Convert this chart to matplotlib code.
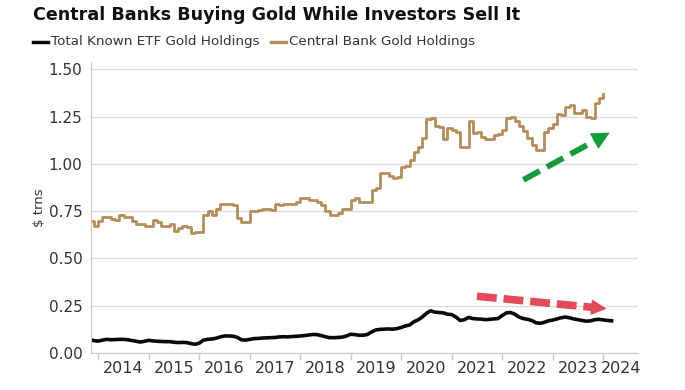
import matplotlib
matplotlib.use("Agg")
import matplotlib.pyplot as plt
from matplotlib import font_manager
import numpy as np

# ---------------- data ----------------
start_year, start_month = 2013, 11

central_bank = [
    0.70, 0.67,                                                             # 2013 Nov-Dec
    0.70, 0.72, 0.72, 0.71, 0.705, 0.73, 0.72, 0.72, 0.70, 0.68, 0.68, 0.67,  # 2014
    0.67, 0.705, 0.69, 0.67, 0.67, 0.68, 0.645, 0.66, 0.67, 0.665, 0.635, 0.64,  # 2015
    0.64, 0.73, 0.75, 0.73, 0.76, 0.785, 0.785, 0.785, 0.78, 0.715, 0.69, 0.69,  # 2016
    0.75, 0.75, 0.755, 0.76, 0.76, 0.755, 0.785, 0.78, 0.785, 0.79, 0.79, 0.80,  # 2017
    0.82, 0.82, 0.81, 0.81, 0.80, 0.78, 0.75, 0.73, 0.73, 0.74, 0.76, 0.76,    # 2018
    0.81, 0.82, 0.80, 0.80, 0.80, 0.86, 0.87, 0.95, 0.95, 0.935, 0.925, 0.93,  # 2019
    0.985, 0.99, 1.02, 1.065, 1.09, 1.136, 1.235, 1.24, 1.20, 1.195, 1.13, 1.19,  # 2020
    1.18, 1.17, 1.09, 1.09, 1.225, 1.165, 1.17, 1.14, 1.13, 1.13, 1.15, 1.16,  # 2021
    1.18, 1.24, 1.25, 1.225, 1.20, 1.175, 1.136, 1.10, 1.075, 1.075, 1.17, 1.19,  # 2022
    1.21, 1.265, 1.26, 1.30, 1.31, 1.27, 1.27, 1.285, 1.25, 1.24, 1.32, 1.35,  # 2023
    1.37,                                                                    # 2024 Jan
]

etf_holdings = [
    0.072, 0.065,                                                                   # 2013 Nov-Dec
    0.063, 0.068, 0.072, 0.070, 0.071, 0.072, 0.072, 0.070, 0.066, 0.062, 0.058, 0.062,  # 2014
    0.067, 0.064, 0.062, 0.061, 0.060, 0.060, 0.057, 0.055, 0.056, 0.055, 0.050, 0.046,  # 2015
    0.052, 0.068, 0.072, 0.074, 0.078, 0.085, 0.090, 0.090, 0.089, 0.083, 0.070, 0.068,  # 2016
    0.072, 0.076, 0.077, 0.079, 0.080, 0.081, 0.082, 0.085, 0.086, 0.085, 0.087, 0.088,  # 2017
    0.090, 0.092, 0.095, 0.098, 0.097, 0.092, 0.086, 0.081, 0.081, 0.082, 0.084, 0.090,  # 2018
    0.099, 0.097, 0.094, 0.094, 0.098, 0.112, 0.122, 0.125, 0.126, 0.127, 0.126, 0.129,  # 2019
    0.135, 0.143, 0.148, 0.165, 0.175, 0.190, 0.210, 0.223, 0.216, 0.214, 0.212, 0.205,  # 2020
    0.203, 0.190, 0.172, 0.176, 0.188, 0.182, 0.180, 0.179, 0.176, 0.178, 0.180, 0.182,  # 2021
    0.198, 0.212, 0.214, 0.205, 0.190, 0.182, 0.178, 0.172, 0.160, 0.157, 0.162, 0.170,  # 2022
    0.174, 0.180, 0.186, 0.190, 0.186, 0.180, 0.176, 0.172, 0.168, 0.170, 0.176, 0.178,  # 2023
    0.175, 0.172, 0.170,                                                            # 2024 Jan-Mar
]

year_labels = [str(y) for y in range(2014, 2025)]
ytick_values = [0.00, 0.25, 0.50, 0.75, 1.00, 1.25, 1.50]

title = "Central Banks Buying Gold While Investors Sell It"
series_names = ["Total Known ETF Gold Holdings", "Central Bank Gold Holdings"]
ylabel = "$ trns"

# arrow annotations (data coordinates)
green_arrow = ((2022.42, 0.915), (2024.13, 1.165))
red_arrow = ((2021.50, 0.300), (2024.07, 0.234))

# ---------------- style ----------------
GOLD = "#b48d5c"
BLACK = "#0a0a0a"
GRID = "#dcdcdc"
TXT = "#333333"

names = {f.name for f in font_manager.fontManager.ttflist}
narrow = "Liberation Sans Narrow" if "Liberation Sans Narrow" in names else "DejaVu Sans"


def month_x(n, y0=start_year, m0=start_month):
    return np.array([y0 + (m0 - 1 + i) / 12.0 for i in range(n)])


x_cb = month_x(len(central_bank))
x_etf = month_x(len(etf_holdings))

fig = plt.figure(figsize=(6.85, 3.90), dpi=100)
ax = fig.add_axes([0.1324, 0.0949, 0.799, 0.747])

ax.plot(x_cb, central_bank, drawstyle="steps-post", color=GOLD, lw=2.0,
        solid_joinstyle="round")
ax.plot(x_etf, etf_holdings, color=BLACK, lw=2.6)

ax.set_xlim(2013.85, 2024.69)
ax.set_ylim(0.0, 1.54)

ax.set_yticks(ytick_values)
ax.set_yticklabels([f"{v:.2f}" for v in ytick_values], fontsize=11, color=TXT)
ax.tick_params(axis="y", length=0, pad=6)

ax.set_xticks(range(2014, 2025))
ax.set_xticklabels([])
ax.set_xticks([y + 0.5 for y in range(2014, 2024)] + [2024.36], minor=True)
ax.set_xticklabels(year_labels, minor=True, fontsize=11.5, color=TXT, family=narrow)
ax.tick_params(axis="x", which="major", length=5, color="#c8c8c8", width=1)
ax.tick_params(axis="x", which="minor", length=0, pad=6)

ax.grid(axis="y", color=GRID, lw=1)
ax.set_axisbelow(True)
for s in ["top", "right"]:
    ax.spines[s].set_visible(False)
ax.spines["left"].set_color("#c8c8c8")
ax.spines["bottom"].set_color("#c8c8c8")

ax.set_ylabel(ylabel, fontsize=9.5, color=TXT, labelpad=2)

# arrows
def dashed_arrow(p0, p1, color, lw, dash, head):
    ax.plot([p0[0], p0[0] + 0.9 * (p1[0] - p0[0])],
            [p0[1], p0[1] + 0.9 * (p1[1] - p0[1])],
            color=color, lw=lw, ls=(0, dash), solid_capstyle="butt",
            dash_capstyle="butt", zorder=5)
    ax.annotate("", xy=p1, xytext=(p0[0] + 0.8 * (p1[0] - p0[0]), p0[1] + 0.8 * (p1[1] - p0[1])),
                arrowprops=dict(arrowstyle="-|>", mutation_scale=head, lw=0,
                                color=color, shrinkA=0, shrinkB=0), zorder=6)

dashed_arrow(*green_arrow, color="#159a3c", lw=4.2, dash=(3.2, 1.4), head=32)
dashed_arrow(*red_arrow, color="#e34a5a", lw=5.5, dash=(2.6, 0.9), head=28)

# title & legend
fig.text(33 / 685, 1 - 15 / 390, title, fontsize=12.6, fontweight="bold",
         color="#111111", va="center", ha="left")

ly = 1 - 42 / 390
fig.add_artist(plt.Line2D([33 / 685, 48 / 685], [ly, ly], color=BLACK, lw=2.5))
fig.text(51 / 685, ly, series_names[0], fontsize=9.7, color=TXT,
         va="center", ha="left", family=narrow)
fig.add_artist(plt.Line2D([271 / 685, 286 / 685], [ly, ly], color=GOLD, lw=2.5))
fig.text(289 / 685, ly, series_names[1], fontsize=9.7, color=TXT,
         va="center", ha="left", family=narrow)

fig.savefig("out.png", dpi=100, facecolor="white")
